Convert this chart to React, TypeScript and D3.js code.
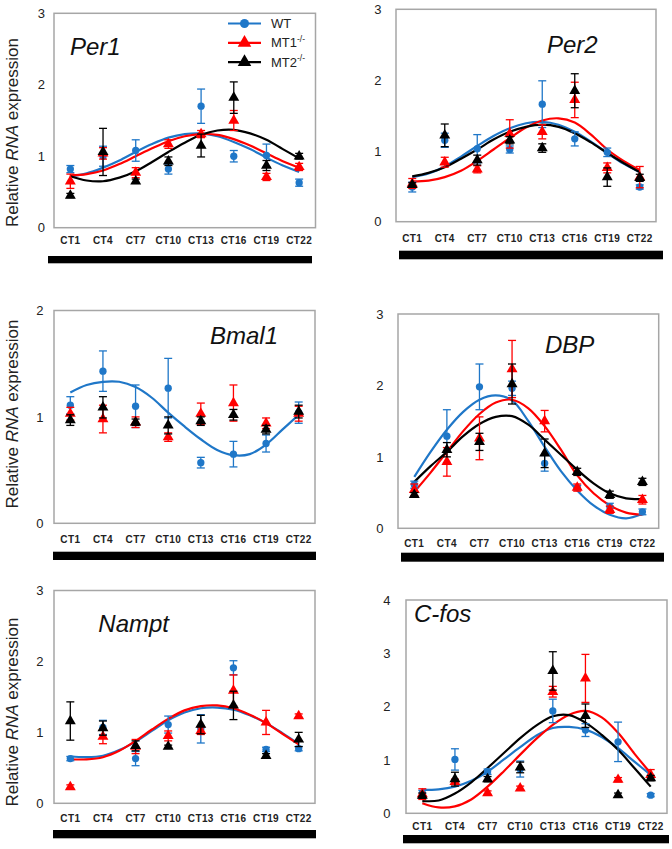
import React from "react";
import * as d3 from "d3";

// ---------- data ----------
const CATEGORIES = ["CT1", "CT4", "CT7", "CT10", "CT13", "CT16", "CT19", "CT22"];
const CT_HOURS = [1, 4, 7, 10, 13, 16, 19, 22];
const FIT_HOURS = [1, 2.5, 4, 5.5, 7, 8.5, 10, 11.5, 13, 14.5, 16, 17.5, 19, 20.5, 22];
const SERIES_NAMES = ["WT", "MT1", "MT2"];
const Y_TITLE_PARTS = ["Relative ", "RNA", " expression"];

// Per1
const PER1_WT = [0.82, 1.0, 1.08, 0.82, 1.7, 1.0, 1.01, 0.63];
const PER1_WT_ERR = [0.05, 0.14, 0.15, 0.07, 0.24, 0.08, 0.16, 0.05];
const PER1_MT1 = [0.65, 1.04, 0.77, 1.17, 1.31, 1.5, 0.71, 0.85];
const PER1_MT1_ERR = [0.1, 0.08, 0.07, 0.06, 0.05, 0.14, 0.05, 0.05];
const PER1_MT2 = [0.45, 1.06, 0.65, 0.93, 1.15, 1.82, 0.87, 1.0];
const PER1_MT2_ERR = [0.03, 0.33, 0.03, 0.06, 0.16, 0.22, 0.07, 0.04];
const PER1_FIT_WT = [0.72, 0.76, 0.84, 0.94, 1.06, 1.17, 1.26, 1.31, 1.32, 1.28, 1.2, 1.1, 0.98, 0.87, 0.78];
const PER1_FIT_MT1 = [0.73, 0.75, 0.8, 0.89, 1.0, 1.11, 1.21, 1.28, 1.31, 1.3, 1.24, 1.15, 1.04, 0.93, 0.84];
const PER1_FIT_MT2 = [0.72, 0.66, 0.65, 0.7, 0.79, 0.92, 1.06, 1.19, 1.3, 1.36, 1.37, 1.32, 1.23, 1.1, 0.97];

// Per2
const PER2_WT = [0.49, 1.15, 1.03, 1.02, 1.66, 1.17, 0.98, 0.49];
const PER2_WT_ERR = [0.07, 0.1, 0.2, 0.05, 0.33, 0.1, 0.06, 0.03];
const PER2_MT1 = [0.54, 0.84, 0.74, 1.24, 1.27, 1.72, 0.76, 0.63];
const PER2_MT1_ERR = [0.07, 0.07, 0.05, 0.2, 0.1, 0.25, 0.07, 0.15];
const PER2_MT2 = [0.52, 1.22, 0.87, 1.15, 1.04, 1.85, 0.63, 0.62];
const PER2_MT2_ERR = [0.03, 0.16, 0.07, 0.05, 0.06, 0.24, 0.13, 0.05];
const PER2_FIT_WT = [0.63, 0.68, 0.78, 0.92, 1.07, 1.21, 1.32, 1.39, 1.41, 1.37, 1.27, 1.13, 0.97, 0.82, 0.7];
const PER2_FIT_MT1 = [0.57, 0.58, 0.63, 0.72, 0.86, 1.02, 1.18, 1.33, 1.43, 1.46, 1.4, 1.23, 1.02, 0.86, 0.73];
const PER2_FIT_MT2 = [0.64, 0.69, 0.77, 0.89, 1.02, 1.16, 1.27, 1.34, 1.37, 1.34, 1.25, 1.12, 0.97, 0.83, 0.7];

// Bmal1
const BMAL1_WT = [1.11, 1.43, 1.1, 1.27, 0.57, 0.65, 0.75, 1.04];
const BMAL1_WT_ERR = [0.08, 0.19, 0.2, 0.28, 0.05, 0.12, 0.08, 0.1];
const BMAL1_MT1 = [1.03, 0.98, 0.95, 0.81, 1.03, 1.13, 0.94, 1.03];
const BMAL1_MT1_ERR = [0.06, 0.13, 0.05, 0.04, 0.1, 0.17, 0.05, 0.07];
const BMAL1_MT2 = [0.97, 1.09, 0.95, 0.92, 0.96, 1.02, 0.88, 1.05];
const BMAL1_MT2_ERR = [0.05, 0.1, 0.03, 0.08, 0.04, 0.05, 0.04, 0.06];
const BMAL1_FIT_WT = [1.23, 1.3, 1.33, 1.33, 1.28, 1.18, 1.04, 0.91, 0.79, 0.69, 0.64, 0.65, 0.74, 0.88, 1.02];

// DBP
const DBP_WT = [0.61, 1.29, 1.98, 1.96, 0.91, 0.57, 0.3, 0.23];
const DBP_WT_ERR = [0.05, 0.37, 0.32, 0.1, 0.11, 0.03, 0.05, 0.04];
const DBP_MT1 = [0.54, 0.93, 1.26, 2.23, 1.5, 0.57, 0.26, 0.4];
const DBP_MT1_ERR = [0.08, 0.2, 0.3, 0.4, 0.15, 0.05, 0.05, 0.06];
const DBP_MT2 = [0.47, 1.1, 1.21, 2.02, 1.05, 0.79, 0.47, 0.65];
const DBP_MT2_ERR = [0.03, 0.1, 0.12, 0.28, 0.2, 0.05, 0.05, 0.05];
const DBP_FIT_WT = [0.72, 1.07, 1.38, 1.63, 1.8, 1.86, 1.79, 1.5, 1.14, 0.8, 0.53, 0.32, 0.19, 0.14, 0.2];
const DBP_FIT_MT1 = [0.51, 0.78, 1.07, 1.36, 1.6, 1.76, 1.8, 1.68, 1.43, 1.1, 0.74, 0.49, 0.32, 0.22, 0.19];
const DBP_FIT_MT2 = [0.65, 0.87, 1.07, 1.29, 1.46, 1.56, 1.57, 1.45, 1.24, 1.03, 0.82, 0.63, 0.49, 0.42, 0.41];

// Nampt
const NAMPT_WT = [0.63, 1.07, 0.63, 1.11, 1.05, 1.91, 0.76, 0.77];
const NAMPT_WT_ERR = [0.03, 0.1, 0.1, 0.12, 0.2, 0.1, 0.03, 0.03];
const NAMPT_MT1 = [0.23, 0.94, 0.8, 0.95, 1.02, 1.59, 1.14, 1.23];
const NAMPT_MT1_ERR = [0.03, 0.1, 0.1, 0.07, 0.05, 0.22, 0.17, 0.03];
const NAMPT_MT2 = [1.16, 1.06, 0.81, 0.8, 1.11, 1.38, 0.67, 0.9];
const NAMPT_MT2_ERR = [0.27, 0.1, 0.07, 0.02, 0.13, 0.2, 0.03, 0.1];
const NAMPT_FIT_WT = [0.66, 0.65, 0.67, 0.75, 0.87, 1.02, 1.17, 1.28, 1.34, 1.35, 1.32, 1.24, 1.13, 0.99, 0.84];
const NAMPT_FIT_MT1 = [0.62, 0.62, 0.65, 0.74, 0.88, 1.04, 1.19, 1.31, 1.37, 1.38, 1.34, 1.25, 1.13, 0.98, 0.83];

// C-fos
const CFOS_WT = [0.38, 1.01, 0.78, 0.83, 1.92, 1.56, 1.34, 0.34];
const CFOS_WT_ERR = [0.05, 0.2, 0.05, 0.15, 0.22, 0.12, 0.37, 0.03];
const CFOS_MT1 = [0.36, 0.59, 0.38, 0.47, 2.28, 2.53, 0.63, 0.72];
const CFOS_MT1_ERR = [0.1, 0.05, 0.04, 0.04, 0.1, 0.45, 0.04, 0.1];
const CFOS_MT2 = [0.33, 0.64, 0.64, 0.86, 2.67, 1.83, 0.34, 0.66];
const CFOS_MT2_ERR = [0.05, 0.13, 0.05, 0.1, 0.36, 0.22, 0.04, 0.05];
const CFOS_FIT_WT = [0.44, 0.45, 0.5, 0.61, 0.78, 1.01, 1.24, 1.46, 1.6, 1.62, 1.57, 1.43, 1.22, 0.97, 0.72];
const CFOS_FIT_MT1 = [0.19, 0.11, 0.13, 0.26, 0.5, 0.79, 1.1, 1.4, 1.66, 1.85, 1.92, 1.8, 1.51, 1.12, 0.75];
const CFOS_FIT_MT2 = [0.23, 0.24, 0.37, 0.58, 0.85, 1.13, 1.41, 1.65, 1.82, 1.84, 1.7, 1.47, 1.19, 0.85, 0.5];

// ---------- styles / layout ----------
const COLORS = ["#1f77c8", "#ff0000", "#000000"];
const FONT = "'Liberation Sans', Arial, Helvetica, sans-serif";

const PANELS = [
  {
    gene: "Per1", yMax: 3, box: { l: 54, t: 13.3, r: 315.5, b: 227.7 },
    means: [PER1_WT, PER1_MT1, PER1_MT2], errs: [PER1_WT_ERR, PER1_MT1_ERR, PER1_MT2_ERR],
    fits: [PER1_FIT_WT, PER1_FIT_MT1, PER1_FIT_MT2],
    labelX: 70, labelY: 55, tickRight: 45, catY: 244.3, bar: { x0: 48, x1: 312, y0: 256, y1: 263.3 },
    yTitle: 132.5, legend: true,
  },
  {
    gene: "Per2", yMax: 3, box: { l: 396, t: 9.3, r: 656, b: 221.7 },
    means: [PER2_WT, PER2_MT1, PER2_MT2], errs: [PER2_WT_ERR, PER2_MT1_ERR, PER2_MT2_ERR],
    fits: [PER2_FIT_WT, PER2_FIT_MT1, PER2_FIT_MT2],
    labelX: 547, labelY: 53.3, tickRight: 381.5, catY: 242, bar: { x0: 399, x1: 663, y0: 250.7, y1: 259.3 },
  },
  {
    gene: "Bmal1", yMax: 2, box: { l: 54, t: 310.5, r: 315, b: 523.3 },
    means: [BMAL1_WT, BMAL1_MT1, BMAL1_MT2], errs: [BMAL1_WT_ERR, BMAL1_MT1_ERR, BMAL1_MT2_ERR],
    fits: [BMAL1_FIT_WT, null, null],
    labelX: 210, labelY: 344.3, tickRight: 43.5, catY: 543, bar: { x0: 53, x1: 316, y0: 551.7, y1: 560 },
    yTitle: 414,
  },
  {
    gene: "DBP", yMax: 3, box: { l: 398, t: 314, r: 658.7, b: 528.3 },
    means: [DBP_WT, DBP_MT1, DBP_MT2], errs: [DBP_WT_ERR, DBP_MT1_ERR, DBP_MT2_ERR],
    fits: [DBP_FIT_WT, DBP_FIT_MT1, DBP_FIT_MT2],
    labelX: 545, labelY: 353, tickRight: 383.5, catY: 547, bar: { x0: 401, x1: 664, y0: 552.7, y1: 561.7 },
  },
  {
    gene: "Nampt", yMax: 3, box: { l: 54, t: 590.5, r: 315, b: 803.3 },
    means: [NAMPT_WT, NAMPT_MT1, NAMPT_MT2], errs: [NAMPT_WT_ERR, NAMPT_MT1_ERR, NAMPT_MT2_ERR],
    fits: [NAMPT_FIT_WT, NAMPT_FIT_MT1, null],
    labelX: 98.3, labelY: 631.7, tickRight: 43.5, catY: 822, bar: { x0: 53, x1: 316, y0: 830, y1: 838.3 },
    yTitle: 712,
  },
  {
    gene: "C-fos", yMax: 4, box: { l: 406, t: 600, r: 667, b: 813.3 },
    means: [CFOS_WT, CFOS_MT1, CFOS_MT2], errs: [CFOS_WT_ERR, CFOS_MT1_ERR, CFOS_MT2_ERR],
    fits: [CFOS_FIT_WT, CFOS_FIT_MT1, CFOS_FIT_MT2],
    labelX: 414, labelY: 621.7, tickRight: 390.5, catY: 830.3, bar: { x0: 403, x1: 669, y0: 835, y1: 843.3 },
  },
];

const circlePath = d3.symbol().type(d3.symbolCircle).size(42)() as string;
const triPath = d3.symbol().type(d3.symbolTriangle).size(52)() as string;
const circleLegend = d3.symbol().type(d3.symbolCircle).size(64)() as string;
const triLegend = d3.symbol().type(d3.symbolTriangle).size(80)() as string;

function Panel({ cfg }: { cfg: any }) {
  const { box } = cfg;
  const x = d3.scaleLinear().domain([-0.5, 23.5]).range([box.l, box.r]);
  const y = d3.scaleLinear().domain([0, cfg.yMax]).range([box.b, box.t]);
  const line = d3
    .line<[number, number]>()
    .x((d) => x(d[0]))
    .y((d) => y(d[1]))
    .curve(d3.curveCatmullRom.alpha(0.5));
  const ticks = d3.range(0, cfg.yMax + 1);
  const cap = 4;
  return (
    <g>
      <rect x={box.l} y={box.t} width={box.r - box.l} height={box.b - box.t} fill="#fff" stroke="#a6a6a6" strokeWidth={1.5} />
      {ticks.map((t) => (
        <text key={t} x={cfg.tickRight} y={y(t)} dy="0.36em" textAnchor="end" fontSize={13} fill="#222" fontFamily={FONT}>
          {t}
        </text>
      ))}
      {CATEGORIES.map((c, i) => (
        <text key={c} x={x(CT_HOURS[i])} y={cfg.catY} textAnchor="middle" fontSize={10} fontWeight="bold" letterSpacing={0.4} fill="#222" fontFamily={FONT}>
          {c}
        </text>
      ))}
      <rect x={cfg.bar.x0} y={cfg.bar.y0} width={cfg.bar.x1 - cfg.bar.x0} height={cfg.bar.y1 - cfg.bar.y0} fill="#000" />
      {cfg.fits.map((f: number[] | null, si: number) =>
        f ? (
          <path key={"fit" + si} d={line(FIT_HOURS.map((h, i) => [h, f[i]]) as [number, number][]) as string} fill="none" stroke={COLORS[si]} strokeWidth={2.2} />
        ) : null
      )}
      {cfg.means.map((m: number[], si: number) => (
        <g key={"s" + si}>
          {m.map((v, i) => {
            const cx = x(CT_HOURS[i]);
            const e = cfg.errs[si][i];
            return (
              <g key={i}>
                <line x1={cx} x2={cx} y1={y(v - e)} y2={y(v + e)} stroke={COLORS[si]} strokeWidth={1.3} />
                <line x1={cx - cap} x2={cx + cap} y1={y(v + e)} y2={y(v + e)} stroke={COLORS[si]} strokeWidth={1.3} />
                <line x1={cx - cap} x2={cx + cap} y1={y(v - e)} y2={y(v - e)} stroke={COLORS[si]} strokeWidth={1.3} />
                <path d={si === 0 ? circlePath : triPath} transform={`translate(${cx},${y(v)})`} fill={COLORS[si]} />
              </g>
            );
          })}
        </g>
      ))}
      <text x={cfg.labelX} y={cfg.labelY} fontSize={24} fontStyle="italic" fill="#111" fontFamily={FONT}>
        {cfg.gene}
      </text>
      {cfg.yTitle !== undefined && (
        <text transform={`translate(18,${cfg.yTitle}) rotate(-90)`} textAnchor="middle" fontSize={17} fill="#222" fontFamily={FONT}>
          {Y_TITLE_PARTS[0]}
          <tspan fontStyle="italic">{Y_TITLE_PARTS[1]}</tspan>
          {Y_TITLE_PARTS[2]}
        </text>
      )}
      {cfg.legend &&
        SERIES_NAMES.map((s, si) => {
          const ly = 23.5 + si * 19.3;
          return (
            <g key={"lg" + s}>
              <line x1={228} x2={261} y1={ly} y2={ly} stroke={COLORS[si]} strokeWidth={2.2} />
              <path d={si === 0 ? circleLegend : triLegend} transform={`translate(244.5,${ly})`} fill={COLORS[si]} />
              <text x={271} y={ly + 4.6} fontSize={13} fill="#222" fontFamily={FONT}>
                {s}
                {si > 0 && (
                  <tspan fontSize={8.5} dy={-5.5}>
                    -/-
                  </tspan>
                )}
              </text>
            </g>
          );
        })}
    </g>
  );
}

export default function App() {
  return (
    <svg width={672} height={849} style={{ position: "absolute", left: 0, top: 0, background: "#fff" }}>
      <rect width={672} height={849} fill="#fff" />
      {PANELS.map((p) => (
        <Panel key={p.gene} cfg={p} />
      ))}
    </svg>
  );
}
